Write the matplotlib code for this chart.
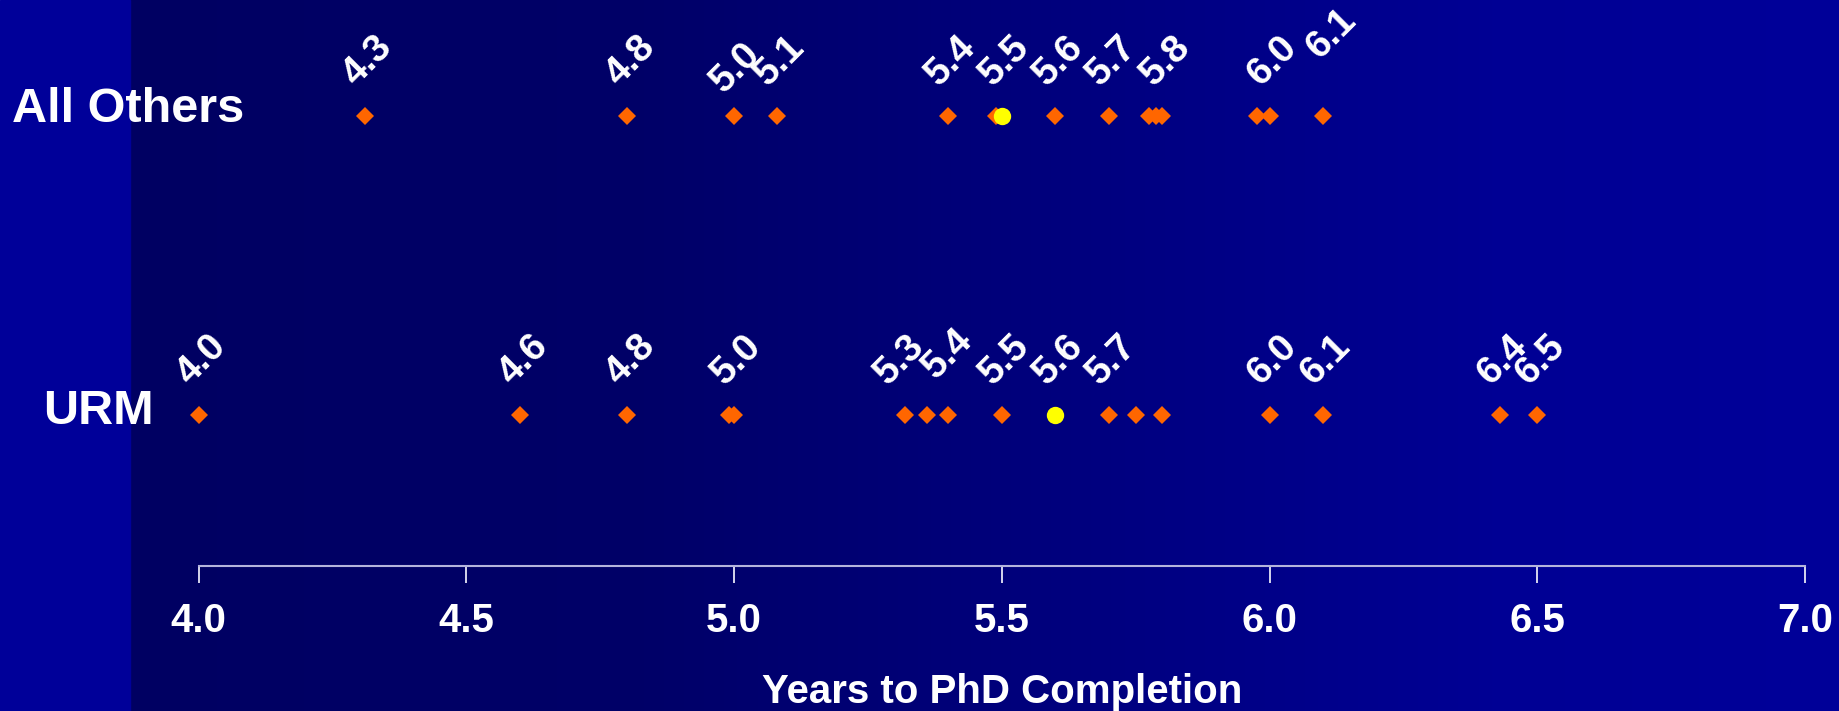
import matplotlib.pyplot as plt
import numpy as np
from matplotlib import transforms
from matplotlib.colors import LinearSegmentedColormap

# data
categories = ['URM', 'All Others']
urm_years = [4.00, 4.60, 4.80, 4.99, 5.00, 5.32, 5.36, 5.40, 5.50,
             5.70, 5.75, 5.80, 6.00, 6.10, 6.43, 6.50]
urm_mean = 5.60
urm_labels = [4.0, 4.6, 4.8, 5.0, 5.3, 5.4, 5.5, 5.6, 5.7, 6.0, 6.1, 6.4, 6.5]
others_years = [4.31, 4.80, 5.00, 5.08, 5.40, 5.49, 5.60, 5.70,
                5.775, 5.787, 5.80, 5.977, 6.00, 6.10]
others_mean = 5.50
others_labels = [4.3, 4.8, 5.0, 5.1, 5.4, 5.5, 5.6, 5.7, 5.8, 6.0, 6.1]
x_ticks = [4.0, 4.5, 5.0, 5.5, 6.0, 6.5, 7.0]
x_title = 'Years to PhD Completion'

plt.rcParams['font.family'] = ['Liberation Sans', 'DejaVu Sans']
plt.rcParams['font.weight'] = 'bold'

W, H = 1839, 711
fig = plt.figure(figsize=(W / 100, H / 100), dpi=100)

# slide background: bright strip on the left, dark-to-blue gradient after it
bg = fig.add_axes([0, 0, 1, 1], zorder=0)
bg.set_axis_off()
cmap = LinearSegmentedColormap.from_list(
    'bg', [(0, '#000062'), (0.3, '#000068'), (0.8, '#000094'), (1, '#000099')])
bg.imshow(np.linspace(0, 1, 512).reshape(1, -1), aspect='auto', cmap=cmap,
          extent=[130, W, 0, H])
bg.axvspan(0, 130, color='#000099')
bg.set_xlim(0, W)
bg.set_ylim(0, H)

ax = fig.add_axes([198.7 / W, 145 / H, 1606.3 / W, 566 / H], zorder=1)
ax.patch.set_visible(False)
ax.set_xlim(4.0, 7.0)
ax.set_ylim(0.495, 2.388)

for s in ['top', 'right', 'left']:
    ax.spines[s].set_visible(False)
ax.spines['bottom'].set_color('#B4B4DC')
ax.spines['bottom'].set_linewidth(1.5)
ax.set_yticks([])
ax.set_xticks(x_ticks)
ax.set_xticklabels(['%.1f' % t for t in x_ticks])
ax.tick_params(axis='x', colors='#E6E6F5', length=12, width=1.3,
               labelcolor='white', labelsize=29, pad=14)
ax.set_xlabel(x_title, color='white', fontsize=29, fontweight='bold', labelpad=24)

series = {
    'URM': (urm_years, urm_mean, urm_labels),
    'All Others': (others_years, others_mean, others_labels),
}

# label placement (pixels up / right of the point)
default_offset = (3, 55)
nudges = {('All Others', 6.1): (9, 82), ('All Others', 5.0): (2, 48),
          ('URM', 5.4): (0, 61), ('URM', 5.3): (-6, 55)}

for i, name in enumerate(categories):
    yy = i + 1
    years, mean, labels = series[name]
    ax.plot(years, [yy] * len(years), linestyle='none', marker='D', ms=9.4,
            color='#FF6600', mew=0, zorder=3, clip_on=False)
    ax.plot([mean], [yy], linestyle='none', marker='o', ms=12.5,
            color='#FFFF00', mew=0, zorder=4, clip_on=False)

    points = years + [mean]
    for lab in labels:
        px = min(points, key=lambda p: abs(p - lab))
        dx, dy = nudges.get((name, lab), default_offset)
        ax.annotate('%.1f' % lab, xy=(px, yy), xytext=(dx, dy),
                    textcoords='offset pixels', ha='center', va='center',
                    rotation=45, color='white', fontsize=28,
                    fontweight='bold', zorder=5)

# category names at the left
trans = transforms.blended_transform_factory(fig.transFigure, ax.transData)
name_pos = {'URM': (43, -9), 'All Others': (12, -6)}
for i, name in enumerate(categories):
    lx, ly = name_pos[name]
    ax.annotate(name, xy=(0, i + 1), xycoords=trans, xytext=(lx, ly),
                textcoords='offset pixels', ha='left', va='baseline',
                color='white', fontsize=35, fontweight='bold',
                annotation_clip=False)

fig.savefig('out.png', dpi=100)
